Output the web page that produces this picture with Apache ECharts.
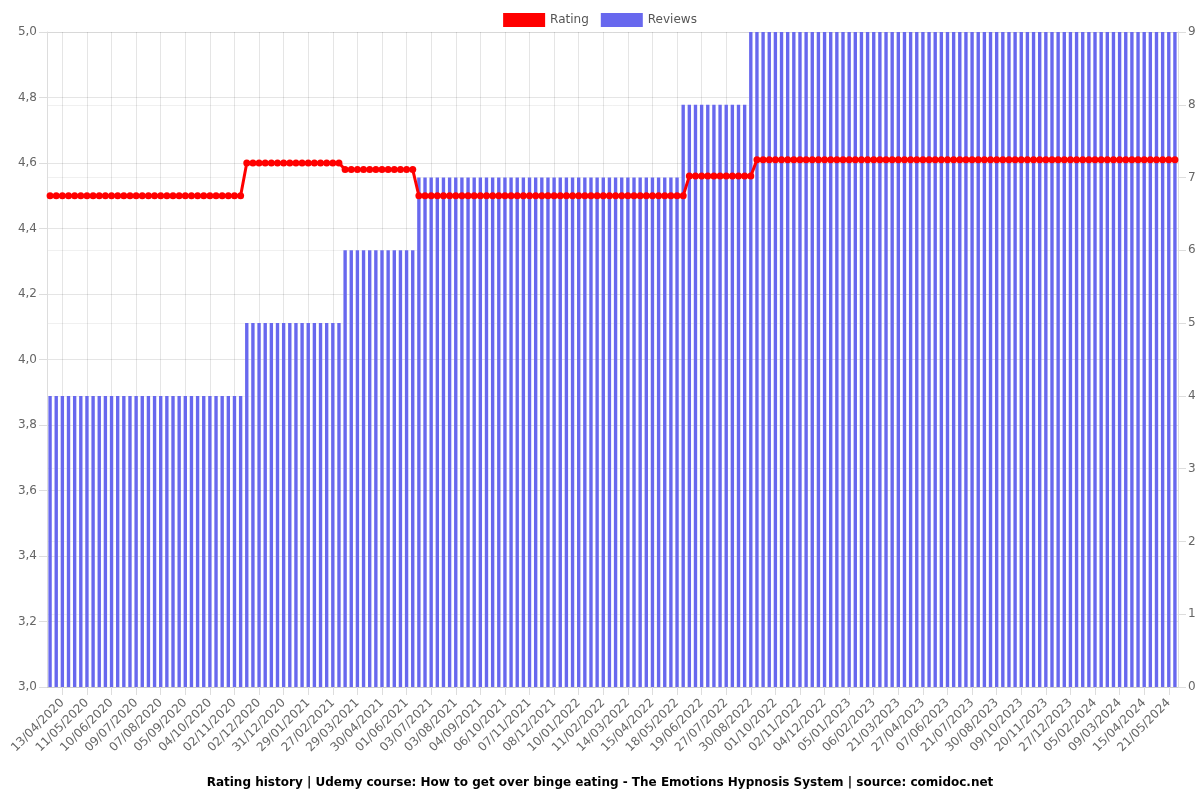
<!DOCTYPE html>
<html>
<head>
<meta charset="utf-8">
<script src="https://cdn.jsdelivr.net/npm/echarts@6/dist/echarts.min.js"></script>
<style>html,body{margin:0;padding:0;background:#fff}#c{width:1200px;height:800px}</style>
</head>
<body>
<div id="c"></div>
<script>
const dates = [
"30/03/2020","06/04/2020","13/04/2020","20/04/2020","27/04/2020","04/05/2020","11/05/2020","18/05/2020","26/05/2020","02/06/2020",
"10/06/2020","17/06/2020","24/06/2020","02/07/2020","09/07/2020","16/07/2020","23/07/2020","31/07/2020","07/08/2020","14/08/2020",
"21/08/2020","29/08/2020","05/09/2020","12/09/2020","19/09/2020","27/09/2020","04/10/2020","11/10/2020","18/10/2020","26/10/2020",
"02/11/2020","09/11/2020","17/11/2020","24/11/2020","02/12/2020","09/12/2020","16/12/2020","24/12/2020","31/12/2020","07/01/2021",
"14/01/2021","22/01/2021","29/01/2021","05/02/2021","12/02/2021","20/02/2021","27/02/2021","06/03/2021","14/03/2021","21/03/2021",
"29/03/2021","06/04/2021","14/04/2021","22/04/2021","30/04/2021","08/05/2021","16/05/2021","24/05/2021","01/06/2021","09/06/2021",
"17/06/2021","25/06/2021","03/07/2021","11/07/2021","19/07/2021","26/07/2021","03/08/2021","11/08/2021","19/08/2021","27/08/2021",
"04/09/2021","12/09/2021","20/09/2021","28/09/2021","06/10/2021","14/10/2021","22/10/2021","30/10/2021","07/11/2021","15/11/2021",
"23/11/2021","30/11/2021","08/12/2021","16/12/2021","24/12/2021","02/01/2022","10/01/2022","18/01/2022","26/01/2022","03/02/2022",
"11/02/2022","19/02/2022","27/02/2022","06/03/2022","14/03/2022","22/03/2022","30/03/2022","07/04/2022","15/04/2022","23/04/2022",
"01/05/2022","09/05/2022","18/05/2022","26/05/2022","03/06/2022","11/06/2022","19/06/2022","28/06/2022","08/07/2022","17/07/2022",
"27/07/2022","04/08/2022","13/08/2022","21/08/2022","30/08/2022","07/09/2022","15/09/2022","23/09/2022","01/10/2022","09/10/2022",
"17/10/2022","25/10/2022","02/11/2022","10/11/2022","18/11/2022","26/11/2022","04/12/2022","12/12/2022","20/12/2022","28/12/2022",
"05/01/2023","13/01/2023","21/01/2023","29/01/2023","06/02/2023","16/02/2023","27/02/2023","10/03/2023","21/03/2023","30/03/2023",
"08/04/2023","18/04/2023","27/04/2023","07/05/2023","17/05/2023","28/05/2023","07/06/2023","18/06/2023","29/06/2023","10/07/2023",
"21/07/2023","31/07/2023","10/08/2023","20/08/2023","30/08/2023","09/09/2023","19/09/2023","29/09/2023","09/10/2023","19/10/2023",
"30/10/2023","09/11/2023","20/11/2023","29/11/2023","08/12/2023","18/12/2023","27/12/2023","06/01/2024","16/01/2024","26/01/2024",
"05/02/2024","13/02/2024","21/02/2024","01/03/2024","09/03/2024","18/03/2024","27/03/2024","06/04/2024","15/04/2024","24/04/2024",
"03/05/2024","12/05/2024","21/05/2024","30/05/2024"
];
const reviews = [
4,4,4,4,4,4,4,4,4,4,
4,4,4,4,4,4,4,4,4,4,
4,4,4,4,4,4,4,4,4,4,
4,4,5,5,5,5,5,5,5,5,
5,5,5,5,5,5,5,5,6,6,
6,6,6,6,6,6,6,6,6,6,
7,7,7,7,7,7,7,7,7,7,
7,7,7,7,7,7,7,7,7,7,
7,7,7,7,7,7,7,7,7,7,
7,7,7,7,7,7,7,7,7,7,
7,7,7,8,8,8,8,8,8,8,
8,8,8,8,9,9,9,9,9,9,
9,9,9,9,9,9,9,9,9,9,
9,9,9,9,9,9,9,9,9,9,
9,9,9,9,9,9,9,9,9,9,
9,9,9,9,9,9,9,9,9,9,
9,9,9,9,9,9,9,9,9,9,
9,9,9,9,9,9,9,9,9,9,
9,9,9,9
];
const rating = [
4.5,4.5,4.5,4.5,4.5,4.5,4.5,4.5,4.5,4.5,
4.5,4.5,4.5,4.5,4.5,4.5,4.5,4.5,4.5,4.5,
4.5,4.5,4.5,4.5,4.5,4.5,4.5,4.5,4.5,4.5,
4.5,4.5,4.6,4.6,4.6,4.6,4.6,4.6,4.6,4.6,
4.6,4.6,4.6,4.6,4.6,4.6,4.6,4.6,4.58,4.58,
4.58,4.58,4.58,4.58,4.58,4.58,4.58,4.58,4.58,4.58,
4.5,4.5,4.5,4.5,4.5,4.5,4.5,4.5,4.5,4.5,
4.5,4.5,4.5,4.5,4.5,4.5,4.5,4.5,4.5,4.5,
4.5,4.5,4.5,4.5,4.5,4.5,4.5,4.5,4.5,4.5,
4.5,4.5,4.5,4.5,4.5,4.5,4.5,4.5,4.5,4.5,
4.5,4.5,4.5,4.5,4.56,4.56,4.56,4.56,4.56,4.56,
4.56,4.56,4.56,4.56,4.56,4.61,4.61,4.61,4.61,4.61,
4.61,4.61,4.61,4.61,4.61,4.61,4.61,4.61,4.61,4.61,
4.61,4.61,4.61,4.61,4.61,4.61,4.61,4.61,4.61,4.61,
4.61,4.61,4.61,4.61,4.61,4.61,4.61,4.61,4.61,4.61,
4.61,4.61,4.61,4.61,4.61,4.61,4.61,4.61,4.61,4.61,
4.61,4.61,4.61,4.61,4.61,4.61,4.61,4.61,4.61,4.61,
4.61,4.61,4.61,4.61,4.61,4.61,4.61,4.61,4.61,4.61,
4.61,4.61,4.61,4.61
];
const titleText = "Rating history | Udemy course: How to get over binge eating - The Emotions Hypnosis System | source: comidoc.net";

const FONT = "DejaVu Sans";
const showIdx = (i) => i % 4 === 2;
const chart = echarts.init(document.getElementById('c'), null, {renderer: 'canvas'});
chart.setOption({
  animation: false,
  textStyle: {fontFamily: FONT},
  title: {
    text: titleText, left: 'center', bottom: 6,
    textStyle: {fontFamily: FONT, fontSize: 12, fontWeight: 'bold', color: '#000'}
  },
  legend: {
    top: 8, left: 'center', itemWidth: 42, itemHeight: 14, itemGap: 12,
    icon: 'rect',
    textStyle: {fontFamily: FONT, fontSize: 12, color: '#555'},
    data: ['Rating', 'Reviews']
  },
  grid: {left: 47, right: 22, top: 32, bottom: 113, containLabel: false},
  xAxis: {
    type: 'category', data: dates, boundaryGap: true,
    axisLine: {lineStyle: {color: '#ccc'}},
    axisTick: {show: true, alignWithLabel: true, interval: showIdx, length: 8, lineStyle: {color: '#ddd'}},
    axisLabel: {interval: showIdx, rotate: 45, fontSize: 12, color: '#666', margin: 14, fontFamily: FONT},
    splitLine: {show: true, alignWithLabel: true, interval: showIdx, lineStyle: {color: 'rgba(0,0,0,0.1)'}}
  },
  yAxis: [
    {
      type: 'value', min: 3, max: 5, interval: 0.2, position: 'left',
      axisLine: {show: true, lineStyle: {color: '#ddd'}},
      axisTick: {show: true, length: 8, lineStyle: {color: '#ddd'}},
      axisLabel: {fontSize: 12, color: '#666', margin: 10, fontFamily: FONT,
        formatter: v => v.toFixed(1).replace('.', ',')},
      splitLine: {show: true, lineStyle: {color: 'rgba(0,0,0,0.1)'}}
    },
    {
      type: 'value', min: 0, max: 9, interval: 1, position: 'right',
      axisLine: {show: true, lineStyle: {color: '#ddd'}},
      axisTick: {show: true, length: 8, lineStyle: {color: '#ddd'}},
      axisLabel: {fontSize: 12, color: '#666', margin: 10, fontFamily: FONT},
      splitLine: {show: true, lineStyle: {color: 'rgba(0,0,0,0.06)'}}
    }
  ],
  series: [
    {
      name: 'Rating', type: 'line', yAxisIndex: 0, data: rating, z: 5,
      color: '#ff0000',
      lineStyle: {width: 3, color: '#ff0000'},
      itemStyle: {color: '#ff0000'},
      symbol: 'circle', symbolSize: 7, showSymbol: true, showAllSymbol: true
    },
    {
      name: 'Reviews', type: 'bar', yAxisIndex: 1, data: reviews, z: 2,
      color: '#6868ee',
      itemStyle: {color: '#6868ee'},
      barWidth: '55%'
    }
  ]
});
</script>
</body>
</html>
